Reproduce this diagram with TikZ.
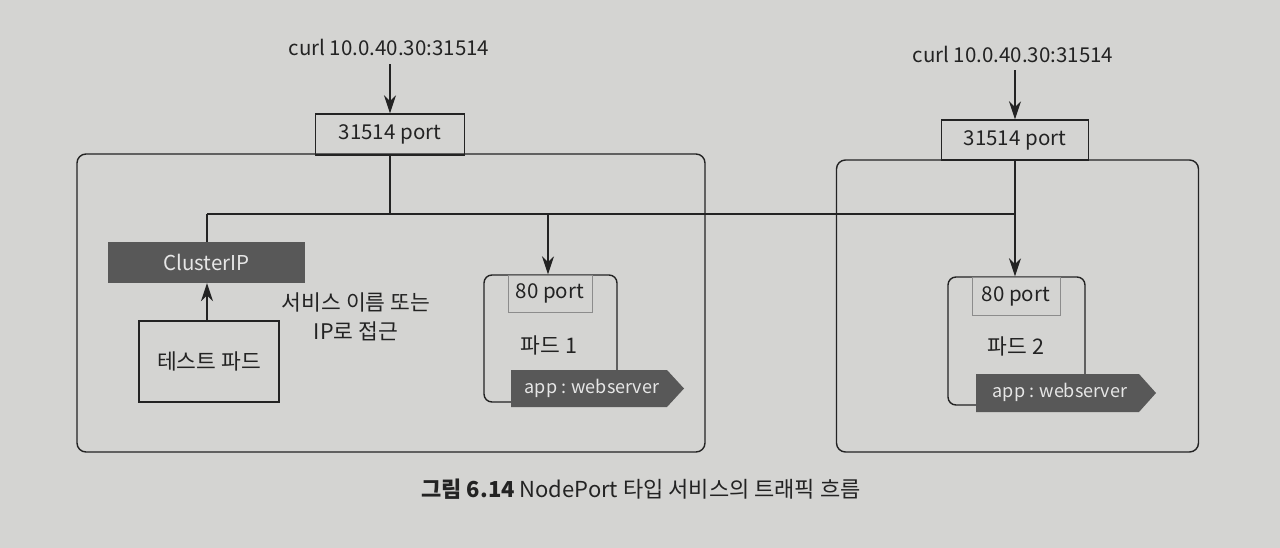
\documentclass[tikz,border=0pt]{standalone}
\usepackage{fontspec}
\setmainfont{Noto Sans CJK KR}
\usetikzlibrary{arrows.meta}
\definecolor{paper}{RGB}{212,212,210}
\definecolor{ink}{RGB}{35,35,35}
\definecolor{tagfill}{RGB}{88,88,88}
\definecolor{tagtext}{RGB}{230,230,230}
\definecolor{thin}{RGB}{140,140,140}
\begin{document}
\begin{tikzpicture}[x=1pt,y=-1pt,
  every node/.style={text=ink,inner sep=0pt},
  lat/.style={font=\fontsize{20.5}{23}\selectfont},
  kor/.style={font=\fontsize{21.5}{24}\selectfont},
  tagfont/.style={font=\fontsize{18}{20}\selectfont,text=tagtext},
  line/.style={draw=ink,line width=1.4pt},
  arr/.style={line,-{Stealth[length=18pt,width=12pt]}},
  plainbox/.style={draw=ink,line width=1.4pt},
  roundbox/.style={plainbox,rounded corners=9pt},
  darkbox/.style={fill=tagfill,text=tagtext},
  portin/.style={draw=thin,line width=0.8pt},
  tag/.style={fill=tagfill},
]
\fill[paper] (0,0) rectangle (1280,548);
\useasboundingbox (0,0) rectangle (1280,548);

% ---------- left node ----------
\node[lat] (curlL) at (389,47) {curl 10.0.40.30:31514};
\node[plainbox,lat,minimum width=149pt,minimum height=41pt] (portL) at (390,134.5) {31514 port};
\node[roundbox,minimum width=628pt,minimum height=298pt] (nodeL) at (391,303) {};
\node[darkbox,lat,minimum width=197pt,minimum height=41pt] (cip) at (206.5,262.5) {ClusterIP};
\node[plainbox,kor,minimum width=140pt,minimum height=81pt] (test) at (209,361.5) {테스트 파드};
\node[kor,align=center] (note) at (356,317) {서비스 이름 또는\\[5pt]IP로 접근};

\node[roundbox,rounded corners=8pt,minimum width=133pt,minimum height=127pt] (pod1) at (550.5,338.5) {};
\node[portin,lat,minimum width=84pt,minimum height=37pt] (p80a) at (550,293.5) {80 port};
\node[kor] (pod1lbl) at (549,345) {파드 1};
\fill[tag] (511,370) -- (667,370) -- (684,388.5) -- (667,407) -- (511,407) -- cycle;
\node[tagfont] (tag1) at (592,388.5) {app : webserver};

% ---------- right node ----------
\node[lat] (curlR) at (1013,54) {curl 10.0.40.30:31514};
\node[plainbox,lat,minimum width=147pt,minimum height=40pt] (portR) at (1015,140) {31514 port};
\node[roundbox,minimum width=362pt,minimum height=292pt] (nodeR) at (1017.5,306) {};

\node[roundbox,rounded corners=8pt,minimum width=137pt,minimum height=128pt] (pod2) at (1016.5,341) {};
\node[portin,lat,minimum width=88pt,minimum height=38pt] (p80b) at (1016,296) {80 port};
\node[kor] (pod2lbl) at (1016,346) {파드 2};
\fill[tag] (976,374) -- (1139,374) -- (1156,393) -- (1139,412) -- (976,412) -- cycle;
\node[tagfont] (tag2) at (1060,392.5) {app : webserver};

% ---------- connectors ----------
\coordinate (jL) at (207,214);
\coordinate (jM) at (390,214);
\coordinate (jP) at (548,214);
\coordinate (jR) at (1015,214);

\draw[arr] (curlL.south -| portL.north) ++(0,9) -- (portL.north);
\draw[arr] (curlR.south -| portR.north) ++(0,8) -- (portR.north);
\draw[line] (portL.south) -- (jM);
\draw[line] (jL) -- (jR);
\draw[line] (jL) -- (cip.north -| jL);
\draw[arr] (jP) -- (pod1.north -| jP);
\draw[arr] (portR.south) -- (pod2.north -| portR.south);
\draw[arr] (test.north -| jL) -- (cip.south -| jL);

% ---------- caption ----------
\node[font=\fontsize{22}{25}\selectfont] (cap) at (641,489) {\textbf{그림 6.14} NodePort 타입 서비스의 트래픽 흐름};
\end{tikzpicture}
\end{document}
